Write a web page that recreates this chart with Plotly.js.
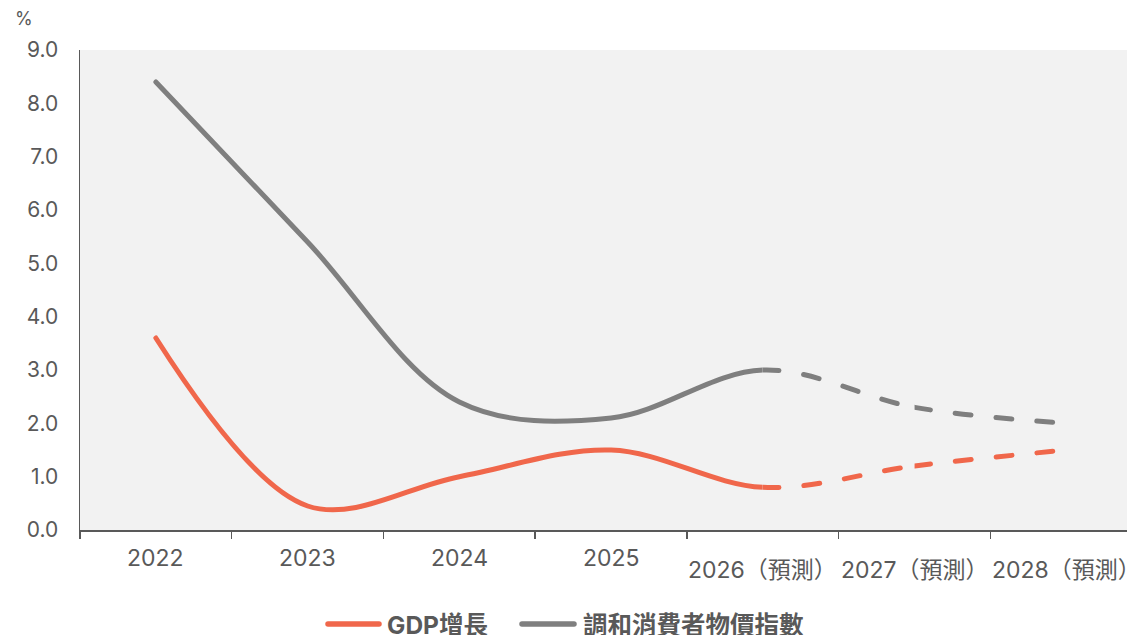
<!DOCTYPE html>
<html>
<head>
<meta charset="utf-8">
<script src="https://cdn.plot.ly/plotly-3.0.1.min.js"></script>
<style>html,body{margin:0;padding:0;background:#fff;}#chart{width:1127px;height:635px;}</style>
</head>
<body>
<div id="chart"></div>
<script>
// ---- data ----
const categories = ['2022', '2023', '2024', '2025', '2026（預測）', '2027（預測）', '2028（預測）'];
const gdpGrowth = [3.6, 0.45, 1.0, 1.5, 0.8, 1.2, 1.5];
const hicp      = [8.4, 5.4, 2.4, 2.1, 3.0, 2.3, 2.0];
const seriesNames = ['GDP增長', '調和消費者物價指數'];
const yTicks = [0, 1, 2, 3, 4, 5, 6, 7, 8, 9];
const unitLabel = '%';
const forecastStart = 4; // index of first forecast year (2026)

// ---- style ----
const W = 1127, H = 635;
const M = {l: 80, r: 0, t: 50, b: 105};
const PW = W - M.l - M.r, PH = H - M.t - M.b;
const px2x = p => (p - M.l) / PW;
const px2y = p => (H - M.b - p) / PH;
const FONT = 'Inter, "Noto Sans CJK TC", "Noto Sans", sans-serif';
const TXT = '#595959';
const ORANGE = '#F0674B';
const GRAY = '#7F7F7F';
const LW = 5;
const DASH = '16px,25px';
const XMIN = -0.5, XMAX = 6.4;
const frac = u => (u - XMIN) / (XMAX - XMIN);

const series = [gdpGrowth, hicp];
const colors = [ORANGE, GRAY];
// segment axes: solid up to 2026, dashed 2026-2027, dashed 2027-end (dash restarts at each point)
const segAxes = [
  {ax: 'x2', range: [XMIN, forecastStart], dash: 'solid'},
  {ax: 'x3', range: [forecastStart, forecastStart + 1], dash: DASH},
  {ax: 'x4', range: [forecastStart + 1, XMAX], dash: DASH}
];

const traces = [{x: categories, y: categories.map(() => null), mode: 'lines', xaxis: 'x', yaxis: 'y', hoverinfo: 'skip'}];
segAxes.forEach(seg => {
  series.forEach((s, i) => {
    traces.push({x: categories, y: s, mode: 'lines', xaxis: seg.ax, yaxis: 'y',
      line: {color: colors[i], width: LW, shape: 'spline', smoothing: 1, dash: seg.dash}, hoverinfo: 'skip'});
  });
});

const annotations = categories.map((c, i) => ({
  text: c, xref: 'x', x: i, yref: 'paper', y: 0,
  yshift: i >= forecastStart ? -40 : -28,
  xanchor: 'center', yanchor: 'middle', showarrow: false,
  font: {family: FONT, size: 23, color: TXT}
}));
annotations.push({
  text: unitLabel, xref: 'paper', yref: 'paper', x: px2x(24), y: px2y(19),
  xanchor: 'center', yanchor: 'middle', showarrow: false,
  font: {family: FONT, size: 18, color: TXT}
});
const legendLineX = [[328, 379], [522, 574]];
const legendTextX = [385, 581];
const shapes = [];
seriesNames.forEach((n, i) => {
  shapes.push({type: 'line', xref: 'paper', yref: 'paper',
    x0: px2x(legendLineX[i][0]), x1: px2x(legendLineX[i][1]), y0: px2y(624), y1: px2y(624),
    line: {color: colors[i], width: 5.5}});
  annotations.push({text: n, xref: 'paper', yref: 'paper', x: px2x(legendTextX[i]), y: px2y(625),
    xanchor: 'left', yanchor: 'middle', showarrow: false,
    font: {family: FONT, size: 24.5, color: TXT, weight: 'bold'}});
});

const hiddenX = (range) => ({type: 'category', categoryorder: 'array', categoryarray: categories,
  range: range, domain: [frac(range[0]), frac(range[1])], anchor: 'y', visible: false, fixedrange: true});

const layout = {
  width: W, height: H, margin: M,
  paper_bgcolor: '#ffffff', plot_bgcolor: '#F2F2F2',
  showlegend: false,
  font: {family: FONT, color: TXT},
  xaxis: {
    type: 'category', categoryorder: 'array', categoryarray: categories, domain: [0, 1],
    range: [XMIN, XMAX], tickson: 'boundaries', ticks: 'outside', ticklen: 7, tickwidth: 1.5, tickcolor: TXT,
    showticklabels: false, showgrid: false, zeroline: false,
    showline: true, linecolor: TXT, linewidth: 1.5, fixedrange: true
  },
  xaxis2: hiddenX(segAxes[0].range),
  xaxis3: hiddenX(segAxes[1].range),
  xaxis4: hiddenX(segAxes[2].range),
  yaxis: {
    range: [0, 9], tickvals: yTicks, tickformat: '.1f', ticks: 'inside', ticklen: 7, tickwidth: 1.5, tickcolor: TXT,
    ticklabelstandoff: 16,
    tickfont: {family: FONT, size: 21, color: TXT},
    showgrid: false, zeroline: false, showline: true, linecolor: TXT, linewidth: 1.5, fixedrange: true
  },
  shapes: shapes,
  annotations: annotations
};

Plotly.newPlot('chart', traces, layout, {staticPlot: true}).then(gd => {
  gd.querySelectorAll('.scatterlayer path.js-line').forEach(p => {
    p.style.strokeLinecap = 'round';
    p.style.strokeLinejoin = 'round';
  });
  // restart dash pattern at the left edge of each dashed segment
  ['x3y', 'x4y'].forEach(sp => {
    gd.querySelectorAll('.subplot.' + sp + ' .scatterlayer path.js-line').forEach(p => {
      const total = p.getTotalLength();
      let lo = 0, hi = total;
      for (let k = 0; k < 40; k++) {
        const mid = (lo + hi) / 2;
        if (p.getPointAtLength(mid).x < 0) lo = mid; else hi = mid;
      }
      p.style.strokeDashoffset = (-lo) + 'px';
    });
  });
  gd.querySelectorAll('.shapelayer path').forEach(p => { p.style.strokeLinecap = 'round'; });
});
</script>
</body>
</html>
